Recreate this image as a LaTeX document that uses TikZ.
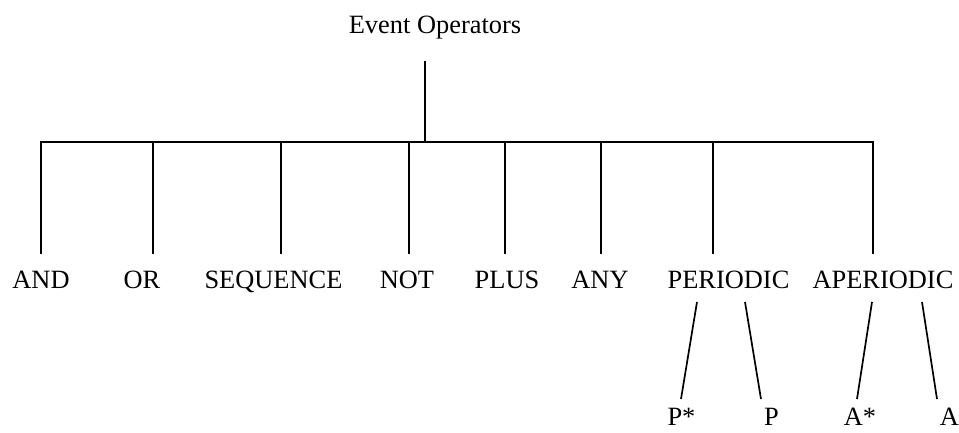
\documentclass[tikz,border=0pt]{standalone}
\usepackage{fontspec}
\setmainfont{Liberation Serif}
\begin{document}
\begin{tikzpicture}[x=1pt,y=-1pt,
  lbl/.style={inner sep=0pt,anchor=base,font=\fontsize{26.4}{31}\selectfont},
  wire/.style={line width=1.7pt,line join=miter}]
\useasboundingbox[fill=white] (0,0) rectangle (959,432);

% root
\node[lbl] (root) at (435,33) {Event Operators};
\coordinate (rootdrop) at (425,61);
\coordinate (hub) at (425,142);

% operator labels
\node[lbl] (and)  at (41,288.5)    {AND};
\node[lbl] (or)   at (142,288.5)   {OR};
\node[lbl] (seq)  at (273.5,288.5) {SEQUENCE};
\node[lbl] (not)  at (407,288.5)   {NOT};
\node[lbl] (plus) at (507,288.5)   {PLUS};
\node[lbl] (any)  at (600,288.5)   {ANY};
\node[lbl] (per)  at (728.5,288.5) {PERIODIC};
\node[lbl] (aper) at (883,288.5)   {APERIODIC};

% sub-operator labels
\node[lbl] (pstar) at (681.5,425.5) {P*};
\node[lbl] (p)     at (771.5,425.5) {P};
\node[lbl] (astar) at (860,425.5)   {A*};
\node[lbl] (a)     at (949.5,425.5) {A};

% attachment points of the comb
\foreach \n/\x in {and/41,or/153,seq/281,not/409,plus/505,any/601,per/713,aper/873}{
  \coordinate (\n-bar) at (\x,142);
  \coordinate (\n-tip) at (\x,254);
}

% trunk and comb
\draw[wire] (rootdrop) -- (hub);
\draw[wire] (and-tip) -- (and-bar) -- (aper-bar) -- (aper-tip);
\foreach \n in {or,seq,not,plus,any,per}
  \draw[wire] (\n-bar) -- (\n-tip);

% branches below PERIODIC and APERIODIC
\coordinate (per-l) at (697,302);   \coordinate (pstar-t) at (681,399);
\coordinate (per-r) at (745,302);   \coordinate (p-t)     at (761,399);
\coordinate (aper-l) at (872,302);  \coordinate (astar-t) at (857,399);
\coordinate (aper-r) at (922,302);  \coordinate (a-t)     at (937,399);
\draw[wire] (per-l) -- (pstar-t);
\draw[wire] (per-r) -- (p-t);
\draw[wire] (aper-l) -- (astar-t);
\draw[wire] (aper-r) -- (a-t);
\end{tikzpicture}
\end{document}
